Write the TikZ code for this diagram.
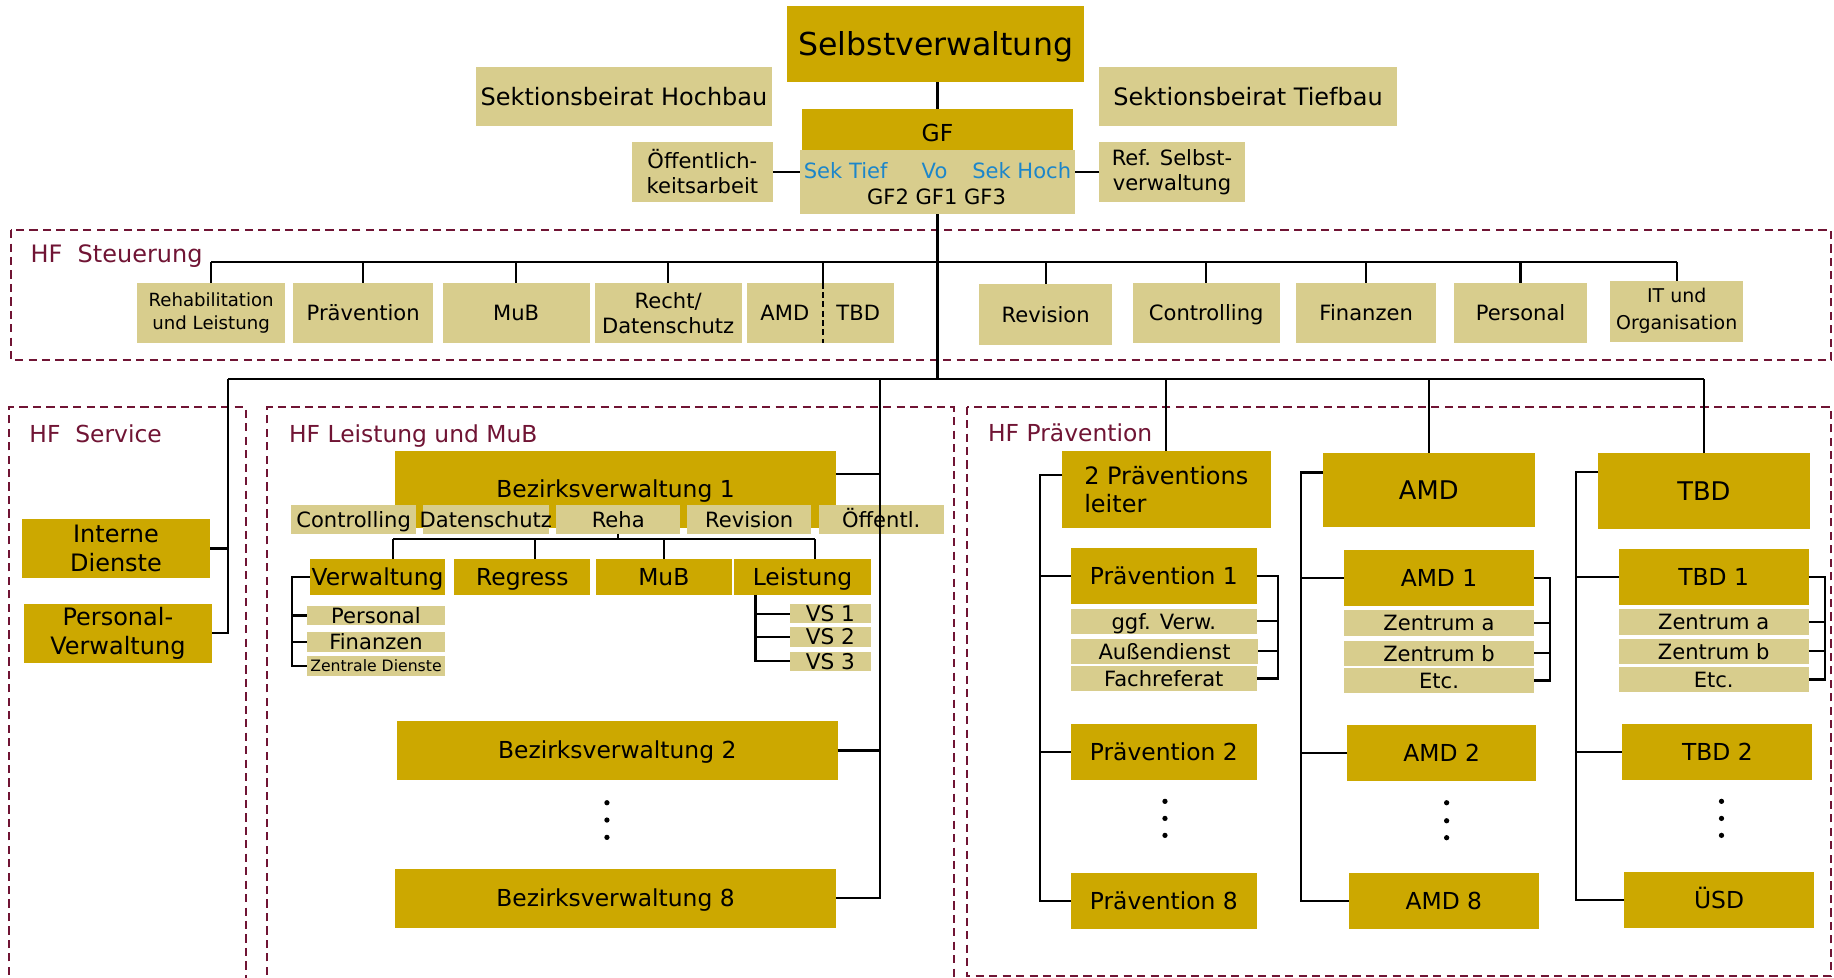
\documentclass[tikz,border=0pt]{standalone}
\usepackage{fontspec}
\setmainfont{DejaVu Sans}
\definecolor{gold}{RGB}{204,168,0}
\definecolor{khaki}{RGB}{216,205,141}
\definecolor{hfred}{RGB}{112,20,52}
\definecolor{gfblue}{RGB}{28,134,202}

% box given by its corners: style, name, x1, y1, x2, y2, text
\newcommand\orgbox[7]{\node[#1, minimum width={#5-#3}, minimum height={#6-#4}] (#2) at ({(#3+#5)/2},{(#4+#6)/2}) {#7};}

\tikzset{
  orgbase/.style={inner sep=0pt, outer sep=0pt, align=center, text=black},
  orgdark/.style={orgbase, fill=gold},
  orglight/.style={orgbase, fill=khaki},
  fa/.style={font=\fontsize{27}{32}\selectfont, text height=19.7pt, text depth=0pt},
  fb/.style={font=\fontsize{20.5}{24}\selectfont, text height=14.9pt, text depth=0pt},
  fc/.style={font=\fontsize{20}{24}\selectfont, text height=14.6pt, text depth=0pt},
  fd/.style={font=\fontsize{22}{26}\selectfont, text height=16pt, text depth=0pt},
  fe/.style={font=\fontsize{18}{21.5}\selectfont, text height=13.1pt, text depth=0pt},
  ff/.style={font=\fontsize{18.5}{22}\selectfont, text height=13.5pt, text depth=0pt},
  fg/.style={font=\fontsize{13.4}{16}\selectfont, text height=9.8pt, text depth=0pt},
  ma/.style={font=\fontsize{18}{21.4}\selectfont},
  mb/.style={font=\fontsize{20.5}{24.2}\selectfont},
  mc/.style={font=\fontsize{15.5}{19.4}\selectfont},
  md/.style={font=\fontsize{16.2}{23}\selectfont},
  conn/.style={draw=black, line width=1.9pt},
  hfframe/.style={draw=hfred, line width=1.7pt, dash pattern=on 7pt off 4.5pt},
  hflabel/.style={text=hfred, font=\fontsize{20}{24}\selectfont, anchor=base west, inner sep=0pt},
  gftext/.style={inner sep=0pt, fe},
  ddot/.style={circle, fill=black, inner sep=0pt, minimum size=4.5pt},
}

\begin{document}
\begin{tikzpicture}[x=1pt, y=-1pt]
\useasboundingbox (0,0) rectangle (1568,836);
\fill[white] (0,0) rectangle (1568,836);

% ---------- dashed areas ----------
\draw[hfframe] (9,196.7) rectangle (1565.5,307.8);
\draw[hfframe] (7.3,845) -- (7.3,348.3) -- (210,348.3) -- (210,845);
\draw[hfframe] (228.3,845) -- (228.3,348.3) -- (815.8,348.3) -- (815.8,845);
\draw[hfframe] (826.5,347.7) rectangle (1565.3,834.5);

\node[hflabel, font=\fontsize{20.5}{24}\selectfont] (hfst) at (26,224.5) {HF\ \ Steuerung};
\node[hflabel] (hfsv) at (25,378.5) {HF\ \ Service};
\node[hflabel] (hfle) at (247,378.5) {HF Leistung und MuB};
\node[hflabel] (hfpr) at (844.6,377.6) {HF Prävention};

% ---------- top ----------
\orgbox{orgdark,fa}{selbst}{673}{5}{927}{70}{Selbstverwaltung}
\orgbox{orglight,fb}{sbh}{407}{57}{660}{108}{Sektionsbeirat Hochbau}
\orgbox{orglight,fb}{sbt}{940}{57}{1194}{108}{Sektionsbeirat Tiefbau}
\orgbox{orgdark,fc}{gf}{686}{93}{917}{135}{GF}
\orgbox{orglight}{gfsub}{684}{128}{919}{183}{}
\node[gftext, text=gfblue] (sektief) at (723,146) {Sek Tief};
\node[gftext, text=gfblue] (vo) at (799,146) {Vo};
\node[gftext, text=gfblue] (sekhoch) at (873.5,146) {Sek Hoch};
\node[gftext] (gfnum) at (800.7,168) {GF2 GF1 GF3};
\orgbox{orglight,ma}{oea}{540}{121}{661}{173}{Öffentlich-\\keitsarbeit}
\orgbox{orglight,ma}{rsv}{940}{121}{1064}{173}{Ref. Selbst-\\verwaltung}

% ---------- HF Steuerung ----------
\orgbox{orglight,mc}{reha}{117}{241.7}{244}{293.5}{Rehabilitation\\und Leistung}
\orgbox{orglight,fe}{sprae}{250.5}{241.7}{370.5}{293.5}{Prävention}
\orgbox{orglight,fe}{smub}{378.5}{241.7}{504}{293.5}{MuB}
\orgbox{orglight,ma}{srecht}{508.5}{241.7}{634}{293.5}{Recht/\\Datenschutz}
\orgbox{orglight,fe}{samd}{638.5}{241.7}{703.5}{293.5}{AMD}
\orgbox{orglight,fe}{stbd}{703.5}{241.7}{764}{293.5}{TBD}
\orgbox{orglight,fe}{srev}{837}{242.8}{951}{294.7}{Revision}
\orgbox{orglight,fe}{sctrl}{968.5}{241.7}{1094}{293.6}{Controlling}
\orgbox{orglight,fe}{sfin}{1108}{241.7}{1228}{293.6}{Finanzen}
\orgbox{orglight,fe}{spers}{1243}{241.7}{1357}{293.6}{Personal}
\orgbox{orglight,md}{sit}{1376.5}{240}{1490.5}{292}{IT und\\Organisation}

% ---------- HF Service ----------
\orgbox{orgdark,mb}{intd}{18.8}{443.8}{179.6}{494}{Interne\\Dienste}
\orgbox{orgdark,mb}{pverw}{20.4}{516.4}{181.2}{566.6}{Personal-\\Verwaltung}

% ---------- HF Leistung und MuB ----------
\orgbox{orgdark,fc}{bv1}{337.7}{385.6}{714.8}{451}{Bezirksverwaltung 1}
\orgbox{orglight,fe}{lctrl}{248.7}{431.8}{356}{456.3}{Controlling}
\orgbox{orglight,fe}{ldat}{361.7}{431.8}{469}{456.3}{\makebox[0pt]{Datenschutz}}
\orgbox{orglight,fe}{lreha}{475.4}{431.8}{581.7}{456.3}{Reha}
\orgbox{orglight,fe}{lrev}{587.4}{431.8}{693.7}{456.3}{Revision}
\orgbox{orglight,fe}{loef}{700}{431.8}{806.8}{456.3}{Öffentl.}
\orgbox{orgdark,fc}{verw}{265}{478}{380.6}{508.5}{\makebox[0pt]{Verwaltung}}
\orgbox{orgdark,fc}{regress}{388.5}{478}{504.7}{508.5}{Regress}
\orgbox{orgdark,fc}{lmub}{509.4}{478}{625.7}{508.5}{MuB}
\orgbox{orgdark,fc}{leist}{627.7}{478}{744.5}{508.5}{Leistung}
\orgbox{orglight,fe}{vpers}{262.3}{518.2}{380.6}{534.1}{Personal}
\orgbox{orglight,fe}{vfin}{262.3}{540.6}{380.6}{557.2}{Finanzen}
\orgbox{orglight,fg}{vzd}{262.3}{560.9}{380.6}{577.7}{Zentrale Dienste}
\orgbox{orglight,ff}{vs1}{675.4}{516.4}{744.5}{533}{VS 1}
\orgbox{orglight,ff}{vs2}{675.4}{536.4}{744.5}{552.9}{VS 2}
\orgbox{orglight,ff}{vs3}{675.4}{557.2}{744.5}{573.4}{VS 3}
\orgbox{orgdark,fc}{bv2}{339.3}{616.5}{716.2}{666.6}{Bezirksverwaltung 2}
\orgbox{orgdark,fc}{bv8}{337.7}{743}{714.8}{793.1}{Bezirksverwaltung 8}
\node[ddot] (bvd1) at (518.9,686.3) {};
\node[ddot] (bvd2) at (518.9,701.1) {};
\node[ddot] (bvd3) at (518.9,715.9) {};

% ---------- HF Prävention ----------
\orgbox{orgdark,mb,align=left}{pl}{908}{385.6}{1086.3}{451.2}{2 Präventions\\leiter}
\orgbox{orgdark,fc}{p1}{915.7}{468.5}{1074.3}{516.1}{Prävention 1}
\orgbox{orglight,fe}{pggf}{915.7}{520.7}{1074.3}{541.8}{ggf. Verw.}
\orgbox{orglight,fe}{pad}{915.7}{546.4}{1075.6}{567.4}{Außendienst}
\orgbox{orglight,fe}{pfr}{915.7}{569.7}{1074.3}{590.5}{Fachreferat}
\orgbox{orgdark,fc}{p2}{915.7}{619}{1074.3}{666.6}{Prävention 2}
\orgbox{orgdark,fc}{p8}{915.7}{746.4}{1074.3}{794}{Prävention 8}
\node[ddot] (pd1) at (996,685.1) {};
\node[ddot] (pd2) at (996,699.7) {};
\node[ddot] (pd3) at (996,714.2) {};

\orgbox{orgdark,fd}{amd}{1131}{387.6}{1312.1}{450.3}{AMD}
\orgbox{orgdark,fc}{amd1}{1149}{470.2}{1311.6}{517.8}{AMD 1}
\orgbox{orglight,fe}{aza}{1149}{521.5}{1311.6}{543.5}{Zentrum a}
\orgbox{orglight,fe}{azb}{1149}{548}{1311.6}{569.2}{Zentrum b}
\orgbox{orglight,fe}{aetc}{1149}{571.4}{1311.6}{592.2}{Etc.}
\orgbox{orgdark,fc}{amd2}{1151.5}{619.9}{1313.6}{667.5}{AMD 2}
\orgbox{orgdark,fc}{amd8}{1153.4}{746.4}{1315.5}{794}{AMD 8}
\node[ddot] (ad1) at (1236.8,686.3) {};
\node[ddot] (ad2) at (1236.8,701.7) {};
\node[ddot] (ad3) at (1236.8,716.2) {};

\orgbox{orgdark,fd}{tbd}{1366.5}{387.6}{1547.1}{452}{TBD}
\orgbox{orgdark,fc}{tbd1}{1384}{469.4}{1546.2}{517}{TBD 1}
\orgbox{orglight,fe}{tza}{1384}{521}{1546.2}{542.6}{Zentrum a}
\orgbox{orglight,fe}{tzb}{1384}{546.4}{1546.2}{567.4}{Zentrum b}
\orgbox{orglight,fe}{tetc}{1384}{570.3}{1546.2}{591.4}{Etc.}
\orgbox{orgdark,fc}{tbd2}{1387}{619}{1549.5}{666.6}{TBD 2}
\orgbox{orgdark,fc}{usd}{1388.4}{745.5}{1551}{793.1}{ÜSD}
\node[ddot] (td1) at (1471.8,685.1) {};
\node[ddot] (td2) at (1471.8,699.7) {};
\node[ddot] (td3) at (1471.8,714.2) {};

% ---------- connectors: top ----------
\draw[conn] (gf.north) -- (gf.north |- selbst.south);
\draw[conn] (oea.east) -- (oea.east -| gfsub.west);
\draw[conn] (rsv.west) -- (rsv.west -| gfsub.east);

\coordinate (sbus) at (801.5,223.7);
\coordinate (lbus) at (801.5,324.3);
\draw[conn] (gfsub.south) -- (lbus);

% HF Steuerung bus
\draw[conn] (reha.north |- sbus) -- (sit.north |- sbus);
\foreach \n in {reha,sprae,smub,srecht,srev,sctrl,sfin,spers,sit}
  \draw[conn] (\n.north) -- (\n.north |- sbus);
\draw[conn] (samd.north east) -- (samd.north east |- sbus);
\draw[black, line width=1.3pt, dash pattern=on 5pt off 3pt] (samd.north east) -- (samd.south east);

% lower bus
\coordinate (svcx) at (194.8,324.3);
\coordinate (leix) at (752.4,324.3);
\draw[conn] (svcx) -- (tbd.north |- lbus);
\draw[conn] (pl.north |- lbus) -- (pl.north);
\draw[conn] (amd.north |- lbus) -- (amd.north);
\draw[conn] (tbd.north |- lbus) -- (tbd.north);

% HF Service
\draw[conn] (svcx) -- (svcx |- pverw.east) -- (pverw.east);
\draw[conn] (intd.east) -- (intd.east -| svcx);

% HF Leistung und MuB
\draw[conn] (leix) -- (leix |- bv8.east) -- (bv8.east);
\draw[conn] (bv2.east) -- (bv2.east -| leix);
\coordinate (bv1c) at ([yshift=13pt]bv1.east);
\draw[conn] (bv1c) -- (bv1c -| leix);

\coordinate (subbus) at (531.4,461.1);
\coordinate (vtop) at ([xshift=13pt]verw.north);
\coordinate (rtop) at ([xshift=11pt]regress.north);
\coordinate (ltop) at ([xshift=11pt]leist.north);
\draw[conn] (vtop |- subbus) -- (ltop |- subbus);
\draw[conn] (lreha.south) -- (lreha.south |- subbus);
\draw[conn] (vtop) -- (vtop |- subbus);
\draw[conn] (rtop) -- (rtop |- subbus);
\draw[conn] (lmub.north) -- (lmub.north |- subbus);
\draw[conn] (ltop) -- (ltop |- subbus);

\coordinate (vx) at ([xshift=-15.3pt]verw.west);
\draw[conn] (verw.west) -- (vx) -- (vx |- vzd.west) -- (vzd.west);
\draw[conn] (vx |- vpers.west) -- (vpers.west);
\draw[conn] (vx |- vfin.west) -- (vfin.west);

\coordinate (lx) at ([xshift=-40.1pt]leist.south);
\draw[conn] (lx) -- (lx |- vs3.west) -- (vs3.west);
\draw[conn] (lx |- vs1.west) -- (vs1.west);
\draw[conn] (lx |- vs2.west) -- (vs2.west);

% HF Prävention, column 1
\coordinate (c1) at ([xshift=-19pt,yshift=12.3pt]pl.west);
\draw[conn] (pl.west |- c1) -- (c1) -- (c1 |- p8.west) -- (p8.west);
\draw[conn] (c1 |- p1.west) -- (p1.west);
\draw[conn] (c1 |- p2.west) -- (p2.west);
\coordinate (r1) at ([xshift=18pt]p1.east);
\draw[conn] (p1.east) -- (r1) -- (r1 |- pfr.east) -- (pfr.east);
\draw[conn] (pggf.east) -- (pggf.east -| r1);
\draw[conn] (pad.east) -- (pad.east -| r1);

% column 2
\coordinate (c2) at ([xshift=-18.6pt,yshift=14.9pt]amd.west);
\draw[conn] (amd.west |- c2) -- (c2) -- (c2 |- amd8.west) -- (amd8.west);
\draw[conn] (c2 |- amd1.west) -- (amd1.west);
\draw[conn] (c2 |- amd2.west) -- (amd2.west);
\coordinate (r2) at ([xshift=13.4pt]amd1.east);
\draw[conn] (amd1.east) -- (r2) -- (r2 |- aetc.east) -- (aetc.east);
\draw[conn] (aza.east) -- (aza.east -| r2);
\draw[conn] (azb.east) -- (azb.east -| r2);

% column 3
\coordinate (c3) at ([xshift=-19pt,yshift=16.5pt]tbd.west);
\draw[conn] (tbd.west |- c3) -- (c3) -- (c3 |- usd.west) -- (usd.west);
\draw[conn] (c3 |- tbd1.west) -- (tbd1.west);
\draw[conn] (c3 |- tbd2.west) -- (tbd2.west);
\coordinate (r3) at ([xshift=14.2pt]tbd1.east);
\draw[conn] (tbd1.east) -- (r3) -- (r3 |- tetc.east) -- (tetc.east);
\draw[conn] (tza.east) -- (tza.east -| r3);
\draw[conn] (tzb.east) -- (tzb.east -| r3);
\end{tikzpicture}
\end{document}
